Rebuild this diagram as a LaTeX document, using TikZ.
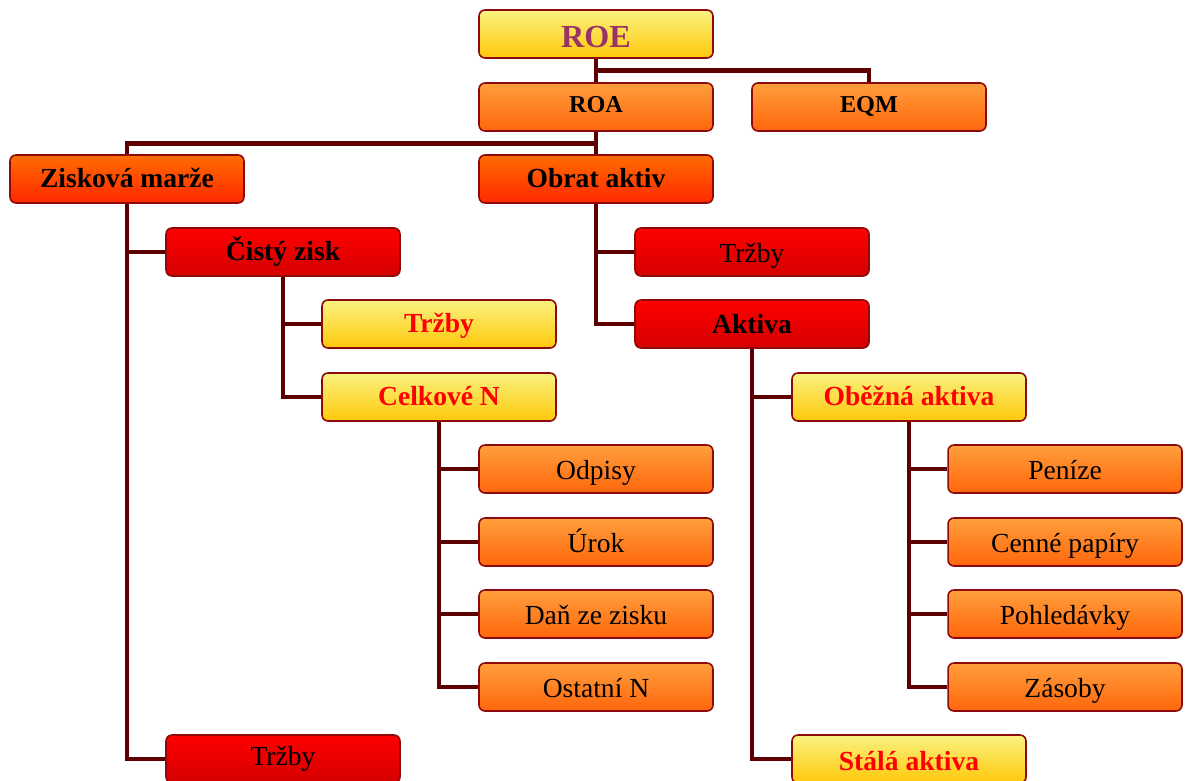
\documentclass[tikz,border=0pt]{standalone}
\usepackage{fontspec}
\setmainfont{Liberation Serif}
\usetikzlibrary{shapes,positioning,backgrounds}
\definecolor{linecol}{RGB}{92,0,0}
\definecolor{edgecol}{RGB}{140,10,10}
\definecolor{roecol}{RGB}{153,51,102}
\definecolor{ytop}{RGB}{249,242,128}
\definecolor{ybot}{RGB}{255,200,10}
\definecolor{otop}{RGB}{255,158,60}
\definecolor{obot}{RGB}{255,102,12}
\definecolor{ortop}{RGB}{255,108,0}
\definecolor{orbot}{RGB}{255,40,0}
\definecolor{rtop}{RGB}{255,0,0}
\definecolor{rbot}{RGB}{212,0,0}
\tikzstyle{box} = [rectangle, draw=edgecol, line width=0.9pt, rounded corners=3.4pt,
    minimum width=4.68cm, minimum height=0.96cm, inner sep=0pt, text centered,
    text height=11.9pt, text depth=0pt]
\tikzset{
    every node/.style={font=\fontsize{15.7}{18}\selectfont},
    conn/.style={draw=linecol, line width=2.8pt},
    boldtext/.style={font=\fontsize{15.7}{18}\selectfont\bfseries, text height=10pt}
}

\begin{document}
\begin{tikzpicture}[x=0.02cm,y=-0.02cm]
    % Define block styles
    \tikzstyle{yellowbox} = [box, top color=ytop, bottom color=ybot, text=red, boldtext]
    \tikzstyle{orangebox} = [box, top color=otop, bottom color=obot]
    \tikzstyle{orangeredbox} = [box, top color=ortop, bottom color=orbot, boldtext]
    \tikzstyle{redbox} = [box, top color=rtop, bottom color=rbot]
    \tikzstyle{small} = [font=\fontsize{13.8}{16}\selectfont\bfseries, text height=6.5pt]

    \useasboundingbox (0,0) rectangle (1185,780);
    \clip (0,0) rectangle (1185,780);

    % Place nodes
    \node [yellowbox, text=roecol, font=\fontsize{18.3}{22}\selectfont\bfseries,
        text height=15.9pt] (roe) at (596,34) {ROE};
    \node [orangebox, small] (roa) at (596,107) {ROA};
    \node [orangebox, small] (eqm) at (869,107) {EQM};
    \node [orangeredbox] (marze) at (127,179) {Zisková marže};
    \node [orangeredbox] (obrat) at (596,179) {Obrat aktiv};
    \node [redbox, boldtext] (cisty) at (283,252) {Čistý zisk};
    \node [redbox] (trzbyA) at (752,252) {Tržby};
    \node [yellowbox] (trzbyB) at (439,324) {Tržby};
    \node [redbox, boldtext, text height=11pt] (aktiva) at (752,324) {Aktiva};
    \node [yellowbox] (celkove) at (439,397) {Celkové N};
    \node [yellowbox] (obezna) at (909,397) {Oběžná aktiva};
    \node [orangebox] (odpisy) at (596,469) {Odpisy};
    \node [orangebox] (urok) at (596,542) {Úrok};
    \node [orangebox] (dan) at (596,614) {Daň ze zisku};
    \node [orangebox] (ostatni) at (596,687) {Ostatní N};
    \node [orangebox] (penize) at (1065,469) {Peníze};
    \node [orangebox] (cenne) at (1065,542) {Cenné papíry};
    \node [orangebox] (pohl) at (1065,614) {Pohledávky};
    \node [orangebox] (zasoby) at (1065,687) {Zásoby};
    \node [redbox, text height=7pt] (trzbyC) at (283,759) {Tržby};
    \node [yellowbox, text height=13pt] (stala) at (909,759) {Stálá aktiva};

    % Connect nodes
    \begin{scope}[on background layer]
        \draw [conn] (roe) -- (roa);
        \draw [conn] (roe.south) ++(0,12) -| (eqm.north);
        \draw [conn] (roa) -- (obrat);
        \draw [conn] (roa.south) ++(0,12) -| (marze.north);
        \draw [conn] (marze.south) |- (cisty.west);
        \draw [conn] (marze.south) |- (trzbyC.west);
        \draw [conn] (cisty.south) |- (trzbyB.west);
        \draw [conn] (cisty.south) |- (celkove.west);
        \foreach \n in {odpisy,urok,dan,ostatni}
            \draw [conn] (celkove.south) |- (\n.west);
        \draw [conn] (obrat.south) |- (trzbyA.west);
        \draw [conn] (obrat.south) |- (aktiva.west);
        \draw [conn] (aktiva.south) |- (obezna.west);
        \draw [conn] (aktiva.south) |- (stala.west);
        \foreach \n in {penize,cenne,pohl,zasoby}
            \draw [conn] (obezna.south) |- (\n.west);
    \end{scope}
\end{tikzpicture}
\end{document}
